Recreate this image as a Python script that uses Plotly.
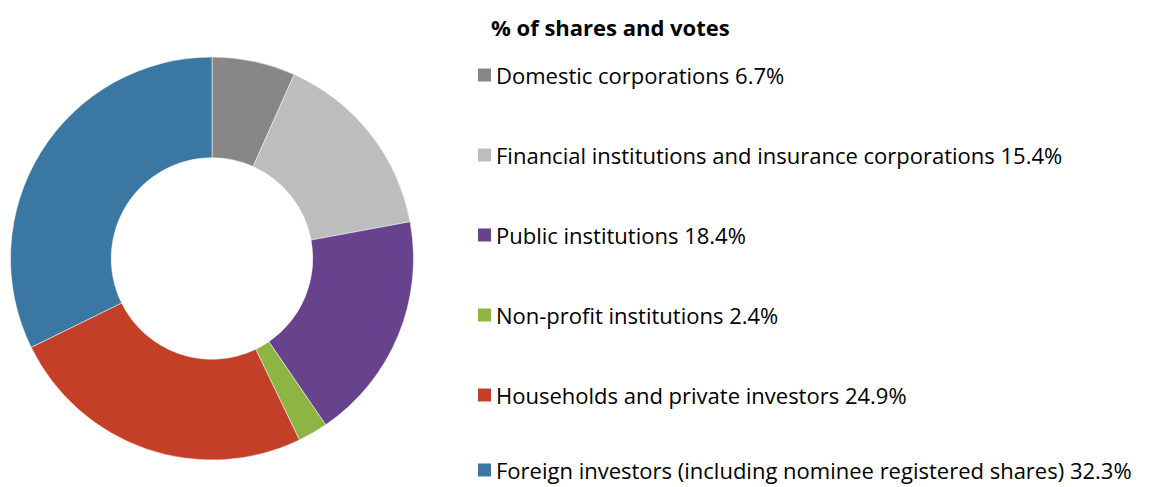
import plotly.graph_objects as go

categories = [
    "Domestic corporations",
    "Financial institutions and insurance corporations",
    "Public institutions",
    "Non-profit institutions",
    "Households and private investors",
    "Foreign investors (including nominee registered shares)",
]
values = [6.7, 15.4, 18.4, 2.4, 24.9, 32.3]
colors = ["#878787", "#bdbdbd", "#67428d", "#8db543", "#c43f28", "#3a78a3"]
title_text = "% of shares and votes"

W, H = 1172, 487

fig = go.Figure()
fig.add_trace(go.Pie(
    labels=categories,
    values=values,
    hole=0.5,
    sort=False,
    direction="clockwise",
    rotation=0,
    marker=dict(colors=colors, line=dict(color="white", width=0.5)),
    textinfo="none",
    hoverinfo="label+percent",
    showlegend=False,
    domain=dict(x=[10 / W, 414 / W], y=[1 - 460 / H, 1 - 57 / H]),
))

font_family = "Open Sans, Liberation Sans, Arial, sans-serif"
annotations = [dict(
    x=489 / W, y=1 - 27 / H, xref="paper", yref="paper",
    xanchor="left", yanchor="middle", showarrow=False,
    text="<b>" + title_text + "</b>",
    font=dict(family=font_family, size=22, color="#000000"),
)]
shapes = []
row_y = [75, 155, 235, 315, 395, 470]
for cat, val, col, ry in zip(categories, values, colors, row_y):
    shapes.append(dict(
        type="rect", xref="paper", yref="paper",
        x0=478 / W, x1=491 / W, y0=1 - (ry + 6.5) / H, y1=1 - (ry - 6.5) / H,
        fillcolor=col, line=dict(width=0),
    ))
    annotations.append(dict(
        x=494 / W, y=1 - ry / H, xref="paper", yref="paper",
        xanchor="left", yanchor="middle", showarrow=False,
        text=f"{cat} {val}%",
        font=dict(family=font_family, size=22, color="#000000"),
    ))

fig.update_layout(
    width=W, height=H,
    margin=dict(l=0, r=0, t=0, b=0),
    paper_bgcolor="white",
    plot_bgcolor="white",
    annotations=annotations,
    shapes=shapes,
)

fig.write_html("out.html", config={"displayModeBar": False},
               post_script="document.body.style.margin='0px';")
